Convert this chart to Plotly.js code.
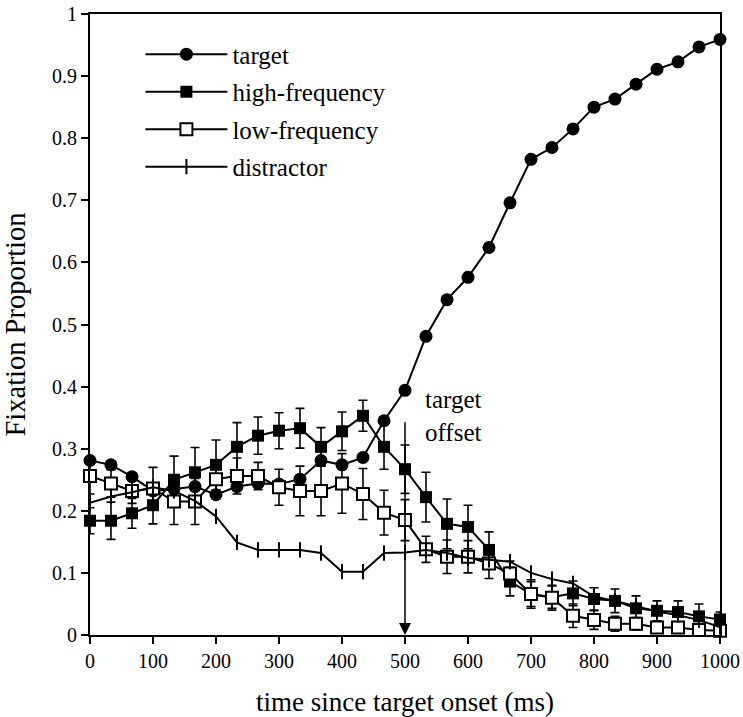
<!DOCTYPE html>
<html>
<head>
<meta charset="utf-8">
<script src="https://cdn.plot.ly/plotly-3.0.1.min.js"></script>
<style>
  html, body { margin: 0; padding: 0; background: #fff; }
  #chart { width: 743px; height: 717px; }
</style>
</head>
<body>
<div id="chart"></div>
<script>
// Time bins (ms since target onset), one every ~33 ms
const timeMs = [0, 33.3, 66.7, 100, 133.3, 166.7, 200, 233.3, 266.7, 300, 333.3,
  366.7, 400, 433.3, 466.7, 500, 533.3, 566.7, 600, 633.3, 666.7, 700, 733.3,
  766.7, 800, 833.3, 866.7, 900, 933.3, 966.7, 1000];

// Fixation proportions per picture type
const targetProp = [0.281, 0.274, 0.255, 0.232, 0.235, 0.239, 0.226, 0.239, 0.244, 0.243, 0.251,
  0.281, 0.274, 0.286, 0.345, 0.394, 0.481, 0.540, 0.576, 0.624, 0.696, 0.766, 0.785,
  0.815, 0.850, 0.863, 0.887, 0.911, 0.923, 0.947, 0.959];

const highFreqProp = [0.184, 0.184, 0.196, 0.209, 0.250, 0.262, 0.274, 0.303, 0.321, 0.329, 0.333,
  0.303, 0.328, 0.353, 0.303, 0.267, 0.222, 0.179, 0.174, 0.137, 0.086, 0.066, 0.061,
  0.067, 0.058, 0.055, 0.043, 0.039, 0.037, 0.030, 0.025];
const highFreqErr = [0.021, 0.030, 0.024, 0.030, 0.038, 0.040, 0.040, 0.039, 0.030, 0.029, 0.032,
  0.031, 0.031, 0.025, 0.036, 0.039, 0.040, 0.040, 0.035, 0.029, 0.023, 0.023, 0.018,
  0.020, 0.018, 0.019, 0.020, 0.016, 0.018, 0.020, 0.012];

const lowFreqProp = [0.256, 0.244, 0.232, 0.236, 0.215, 0.215, 0.251, 0.256, 0.256, 0.238, 0.232,
  0.232, 0.244, 0.227, 0.197, 0.185, 0.138, 0.126, 0.126, 0.115, 0.099, 0.066, 0.060,
  0.031, 0.024, 0.018, 0.018, 0.012, 0.012, 0.008, 0.007];
const lowFreqErr = [0.029, 0.022, 0.020, 0.034, 0.037, 0.037, 0.025, 0.029, 0.022, 0.029, 0.040,
  0.040, 0.048, 0.041, 0.036, 0.033, 0.021, 0.027, 0.026, 0.024, 0.020, 0.020, 0.020,
  0.019, 0.015, 0.012, 0.010, 0.008, 0.008, 0.006, 0.005];

const distractorProp = [0.213, 0.223, 0.230, 0.238, 0.232, 0.216, 0.191, 0.149, 0.137, 0.137, 0.137,
  0.132, 0.102, 0.102, 0.132, 0.133, 0.137, 0.132, 0.124, 0.121, 0.118, 0.100, 0.090,
  0.083, 0.062, 0.055, 0.046, 0.038, 0.032, 0.024, 0.013];

const seriesNames = ['target', 'high-frequency', 'low-frequency', 'distractor'];

const FONT = 'Liberation Serif, Times New Roman, Times, serif';
const INK = '#000';

function errorBars(arr) {
  return { type: 'data', array: arr, visible: true, color: INK, thickness: 1.6, width: 4.5 };
}

const traces = [
  {
    x: timeMs, y: targetProp, name: seriesNames[0], legendgroup: 'g0',
    type: 'scatter', mode: 'lines+markers',
    line: { color: INK, width: 2 },
    marker: { symbol: 'circle', size: 13, color: INK },
    cliponaxis: false
  },
  {
    x: timeMs, y: highFreqProp, name: seriesNames[1], legendgroup: 'g1',
    type: 'scatter', mode: 'lines+markers',
    line: { color: INK, width: 2 },
    marker: { symbol: 'square', size: 12, color: INK },
    error_y: errorBars(highFreqErr),
    cliponaxis: false
  },
  {
    x: timeMs, y: lowFreqProp, name: seriesNames[2], legendgroup: 'g2',
    type: 'scatter', mode: 'lines+markers',
    line: { color: INK, width: 2 },
    marker: { symbol: 'square', size: 12, color: '#fff', line: { color: INK, width: 2 } },
    error_y: errorBars(lowFreqErr),
    cliponaxis: false
  },
  {
    x: timeMs, y: distractorProp, name: seriesNames[3], legendgroup: 'g3',
    type: 'scatter', mode: 'lines+markers',
    line: { color: INK, width: 2 },
    marker: { symbol: 'line-ns', size: 11, color: INK, line: { color: INK, width: 2 } },
    cliponaxis: false
  }
];

const layout = {
  width: 743,
  height: 717,
  margin: { l: 90, r: 23, t: 14, b: 82 },
  paper_bgcolor: '#fff',
  plot_bgcolor: '#fff',
  font: { family: FONT, color: INK, size: 20 },
  showlegend: true,
  legend: {
    x: 0.08, y: 0.972, xanchor: 'left', yanchor: 'top',
    bgcolor: 'rgba(0,0,0,0)',
    font: { family: FONT, size: 25, color: INK },
    itemwidth: 82,
    tracegroupgap: 2
  },
  xaxis: {
    range: [0, 1000],
    tickvals: [0, 100, 200, 300, 400, 500, 600, 700, 800, 900, 1000],
    ticks: 'outside', ticklen: 7, tickwidth: 2, tickcolor: INK,
    showline: true, linewidth: 2, linecolor: INK, mirror: true,
    showgrid: false, zeroline: false,
    tickfont: { family: FONT, size: 20, color: INK },
    title: { text: 'time since target onset (ms)', font: { family: FONT, size: 27, color: INK }, standoff: 22 }
  },
  yaxis: {
    range: [0, 1],
    tickvals: [0, 0.1, 0.2, 0.3, 0.4, 0.5, 0.6, 0.7, 0.8, 0.9, 1],
    ticktext: ['0', '0.1', '0.2', '0.3', '0.4', '0.5', '0.6', '0.7', '0.8', '0.9', '1'],
    ticks: 'outside', ticklen: 7, tickwidth: 2, tickcolor: INK,
    showline: true, linewidth: 2, linecolor: INK, mirror: true,
    showgrid: false, zeroline: false,
    tickfont: { family: FONT, size: 20, color: INK },
    title: { text: 'Fixation Proportion', font: { family: FONT, size: 28.5, color: INK }, standoff: 20 }
  },
  annotations: [
    {
      // arrow marking the moment the target word ends
      x: 500, y: 0, xref: 'x', yref: 'y',
      ax: 500, ay: 0.345, axref: 'x', ayref: 'y',
      showarrow: true, arrowhead: 2, arrowsize: 1.6, arrowwidth: 1.5, arrowcolor: INK,
      text: ''
    },
    {
      x: 528, y: 0.352, xref: 'x', yref: 'y',
      xanchor: 'left', yanchor: 'middle', align: 'left',
      showarrow: false,
      text: 'target<br>offset',
      font: { family: FONT, size: 25, color: INK }
    }
  ]
};

Plotly.newPlot('chart', traces, layout, { displayModeBar: false, staticPlot: true });
</script>
</body>
</html>
